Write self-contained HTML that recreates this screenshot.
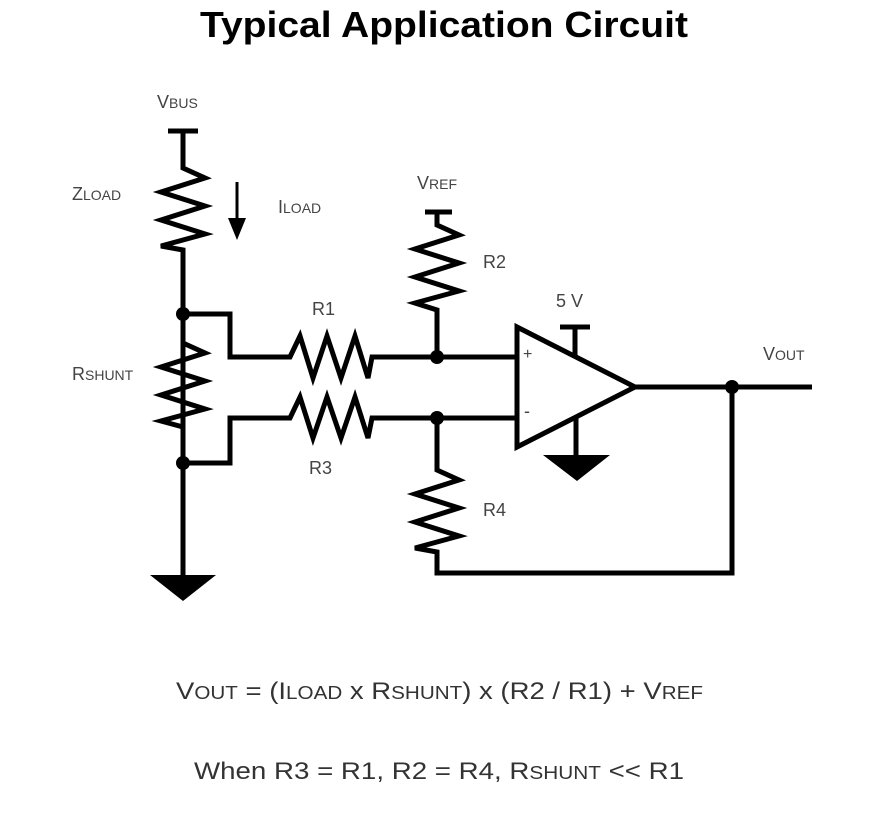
<!DOCTYPE html>
<html><head><style>body{margin:0;background:#fff}svg{display:block}</style></head><body>
<svg width="896" height="840" xmlns="http://www.w3.org/2000/svg" font-family="Liberation Sans, Arial, sans-serif">
<text x="200" y="37" font-size="36" font-weight="bold" fill="#000" textLength="488" lengthAdjust="spacingAndGlyphs">Typical Application Circuit</text>
<g fill="none" stroke="#000" stroke-width="5" stroke-linejoin="miter">
<path d="M168 131H198M183 131V168L205 178L161 192L205 206L161 220L205 234L161 246L183 250V576"/>
<path d="M183 314H230V357H290L300 336L313 378L327 336L341 378L355 336L368 378L372 357H517"/>
<path d="M183 463H230V418H290L300 397L313 438L327 397L341 438L355 397L368 438L372 418H517"/>
<path d="M183 343L205 353L161 367L205 381L161 395L205 409L161 421L183 427"/>
<path d="M425 212H452M437 212V225L459 235L415 249L459 263L415 277L459 291L415 303L437 310V357"/>
<path d="M437 418V470L459 480L415 494L459 508L415 522L459 536L415 548L437 552V573H732V387"/>
<path d="M517 327V447L635 387Z"/>
<path d="M560 327H590M575 327V355M576 418V456M635 387H812"/>
<path d="M237 182V222" stroke-width="3"/>
</g>
<g fill="#000">
<path d="M228 218H246L237 240Z"/>
<path d="M150 575H216L183 601Z"/>
<path d="M543 455H610L577 481Z"/>
<circle cx="183" cy="314" r="7"/><circle cx="183" cy="463" r="7"/>
<circle cx="437" cy="357" r="7"/><circle cx="437" cy="418" r="7"/>
<circle cx="732" cy="387" r="7"/>
</g>
<g fill="#444" font-size="18">
<text x="157" y="108">V<tspan font-size="14">BUS</tspan></text>
<text x="72" y="200">Z<tspan font-size="14">LOAD</tspan></text>
<text x="278" y="213">I<tspan font-size="14">LOAD</tspan></text>
<text x="417" y="189">V<tspan font-size="14">REF</tspan></text>
<text x="72" y="380">R<tspan font-size="14">SHUNT</tspan></text>
<text x="763" y="360">V<tspan font-size="14">OUT</tspan></text>
<text x="483" y="268">R2</text>
<text x="312" y="315">R1</text>
<text x="309" y="474">R3</text>
<text x="483" y="516">R4</text>
<text x="556" y="307">5 V</text>
<text x="523" y="359" font-size="16">+</text>
<text x="524" y="417" font-size="18">-</text>
</g>
<g fill="#333" font-size="24">
<text x="176" y="699" textLength="527" lengthAdjust="spacingAndGlyphs">V<tspan font-size="18">OUT</tspan> = (I<tspan font-size="18">LOAD</tspan> x R<tspan font-size="18">SHUNT</tspan>) x (R2 / R1) + V<tspan font-size="18">REF</tspan></text>
<text x="194" y="779" textLength="490" lengthAdjust="spacingAndGlyphs">When R3 = R1, R2 = R4, R<tspan font-size="18">SHUNT</tspan> &lt;&lt; R1</text>
</g>
</svg>
</body></html>
